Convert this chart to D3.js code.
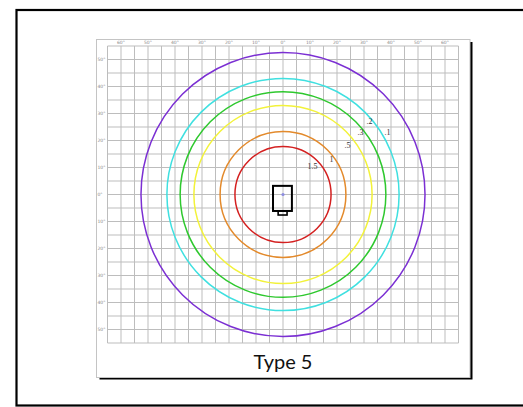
<!DOCTYPE html>
<html>
<head>
<meta charset="utf-8">
<script src="https://cdn.jsdelivr.net/npm/d3@7"></script>
<style>
  html, body { margin: 0; padding: 0; background: #fff; }
  svg { display: block; }
</style>
</head>
<body>
<svg width="523" height="407"></svg>
<script>
// contour values (footcandles) and their radius in degrees off nadir
var levels  = [".1", ".2", ".3", ".5", "1", "1.5"];
var radii   = [52.6, 43.0, 38.1, 33.0, 23.3, 17.8];
var colors  = ["#7b2fd3", "#3fe0e0", "#2ec82e", "#f2f23a", "#e38a2c", "#d42020"];
// where the labels sit (degrees, x right / y up)
var labelX  = [38.7, 32.0, 28.7, 23.9, 18.0, 10.9];
var labelY  = [22.8, 27.2, 23.1, 18.3, 12.8, 10.2];
var xTicks  = [-60, -50, -40, -30, -20, -10, 0, 10, 20, 30, 40, 50, 60];
var yTicks  = [50, 40, 30, 20, 10, 0, -10, -20, -30, -40, -50];

var svg = d3.select("svg"),
    width = +svg.attr("width"),
    height = +svg.attr("height");

var x = d3.scaleLinear().domain([-65, 65]).range([107.5, 458.5]);
var y = d3.scaleLinear().domain([55, -55]).range([46, 343]);

// outer frame
svg.append("rect")
    .attr("x", 16.5).attr("y", 10)
    .attr("width", 530).attr("height", 395.5)
    .attr("fill", "none")
    .attr("stroke", "#000")
    .attr("stroke-width", 2.2);

// card shadow + card
svg.append("rect")
    .attr("x", 99.5).attr("y", 42)
    .attr("width", 373).attr("height", 337.5)
    .attr("fill", "#000");
svg.append("rect")
    .attr("x", 96.5).attr("y", 39.5)
    .attr("width", 373.5).attr("height", 338)
    .attr("fill", "#fff")
    .attr("stroke", "#c4c4c4")
    .attr("stroke-width", 1);

// grid
var grid = svg.append("g").attr("class", "grid");
grid.selectAll("line.v")
    .data(d3.range(-65, 66, 5))
    .enter().append("line")
    .attr("x1", d => x(d)).attr("x2", d => x(d))
    .attr("y1", y(55)).attr("y2", y(-55))
    .attr("stroke", "#bdbdbd").attr("stroke-width", 1);
grid.selectAll("line.h")
    .data(d3.range(-55, 56, 5))
    .enter().append("line")
    .attr("y1", d => y(d)).attr("y2", d => y(d))
    .attr("x1", x(-65)).attr("x2", x(65))
    .attr("stroke", "#bdbdbd").attr("stroke-width", 1);

// tick labels
svg.append("g").selectAll("text")
    .data(xTicks)
    .enter().append("text")
    .attr("x", d => x(d))
    .attr("y", 43.5)
    .attr("text-anchor", "middle")
    .attr("font-family", "DejaVu Sans, sans-serif")
    .attr("font-size", "4.5px")
    .attr("fill", "#8a8a8a")
    .text(d => Math.abs(d) + "°");
svg.append("g").selectAll("text")
    .data(yTicks)
    .enter().append("text")
    .attr("x", 97.5)
    .attr("y", d => y(d) + 1.5)
    .attr("font-family", "DejaVu Sans, sans-serif")
    .attr("font-size", "4.5px")
    .attr("fill", "#8a8a8a")
    .text(d => Math.abs(d) + "°");

// isofootcandle contours
svg.append("g").selectAll("ellipse")
    .data(radii)
    .enter().append("ellipse")
    .attr("cx", x(0))
    .attr("cy", y(0))
    .attr("rx", d => x(d) - x(0))
    .attr("ry", d => y(0) - y(d))
    .attr("fill", "none")
    .attr("stroke", (d, i) => colors[i])
    .attr("stroke-width", 1.5);

svg.append("g").selectAll("text")
    .data(levels)
    .enter().append("text")
    .attr("x", (d, i) => x(labelX[i]))
    .attr("y", (d, i) => y(labelY[i]) + 2.5)
    .attr("text-anchor", "middle")
    .attr("font-family", "Liberation Serif, serif")
    .attr("font-size", "8px")
    .attr("fill", "#333")
    .text(d => d);

// luminaire
var lum = svg.append("g");
lum.append("rect")
    .attr("x", x(-3.7)).attr("y", y(3.2))
    .attr("width", x(3.3) - x(-3.7))
    .attr("height", y(-6.1) - y(3.2))
    .attr("fill", "none")
    .attr("stroke", "#000")
    .attr("stroke-width", 2);
lum.append("rect")
    .attr("x", x(-1.8)).attr("y", y(-6.1))
    .attr("width", x(1.5) - x(-1.8))
    .attr("height", y(-7.6) - y(-6.1))
    .attr("fill", "none")
    .attr("stroke", "#000")
    .attr("stroke-width", 1.6);
lum.append("circle")
    .attr("cx", x(0)).attr("cy", y(0))
    .attr("r", 1.6)
    .attr("fill", "#8c8ce0");

// caption
svg.append("text")
    .attr("x", x(0))
    .attr("y", 369)
    .attr("text-anchor", "middle")
    .attr("font-family", "Lato, sans-serif")
    .attr("font-size", "20px")
    .attr("fill", "#111")
    .text("Type 5");
</script>
</body>
</html>
